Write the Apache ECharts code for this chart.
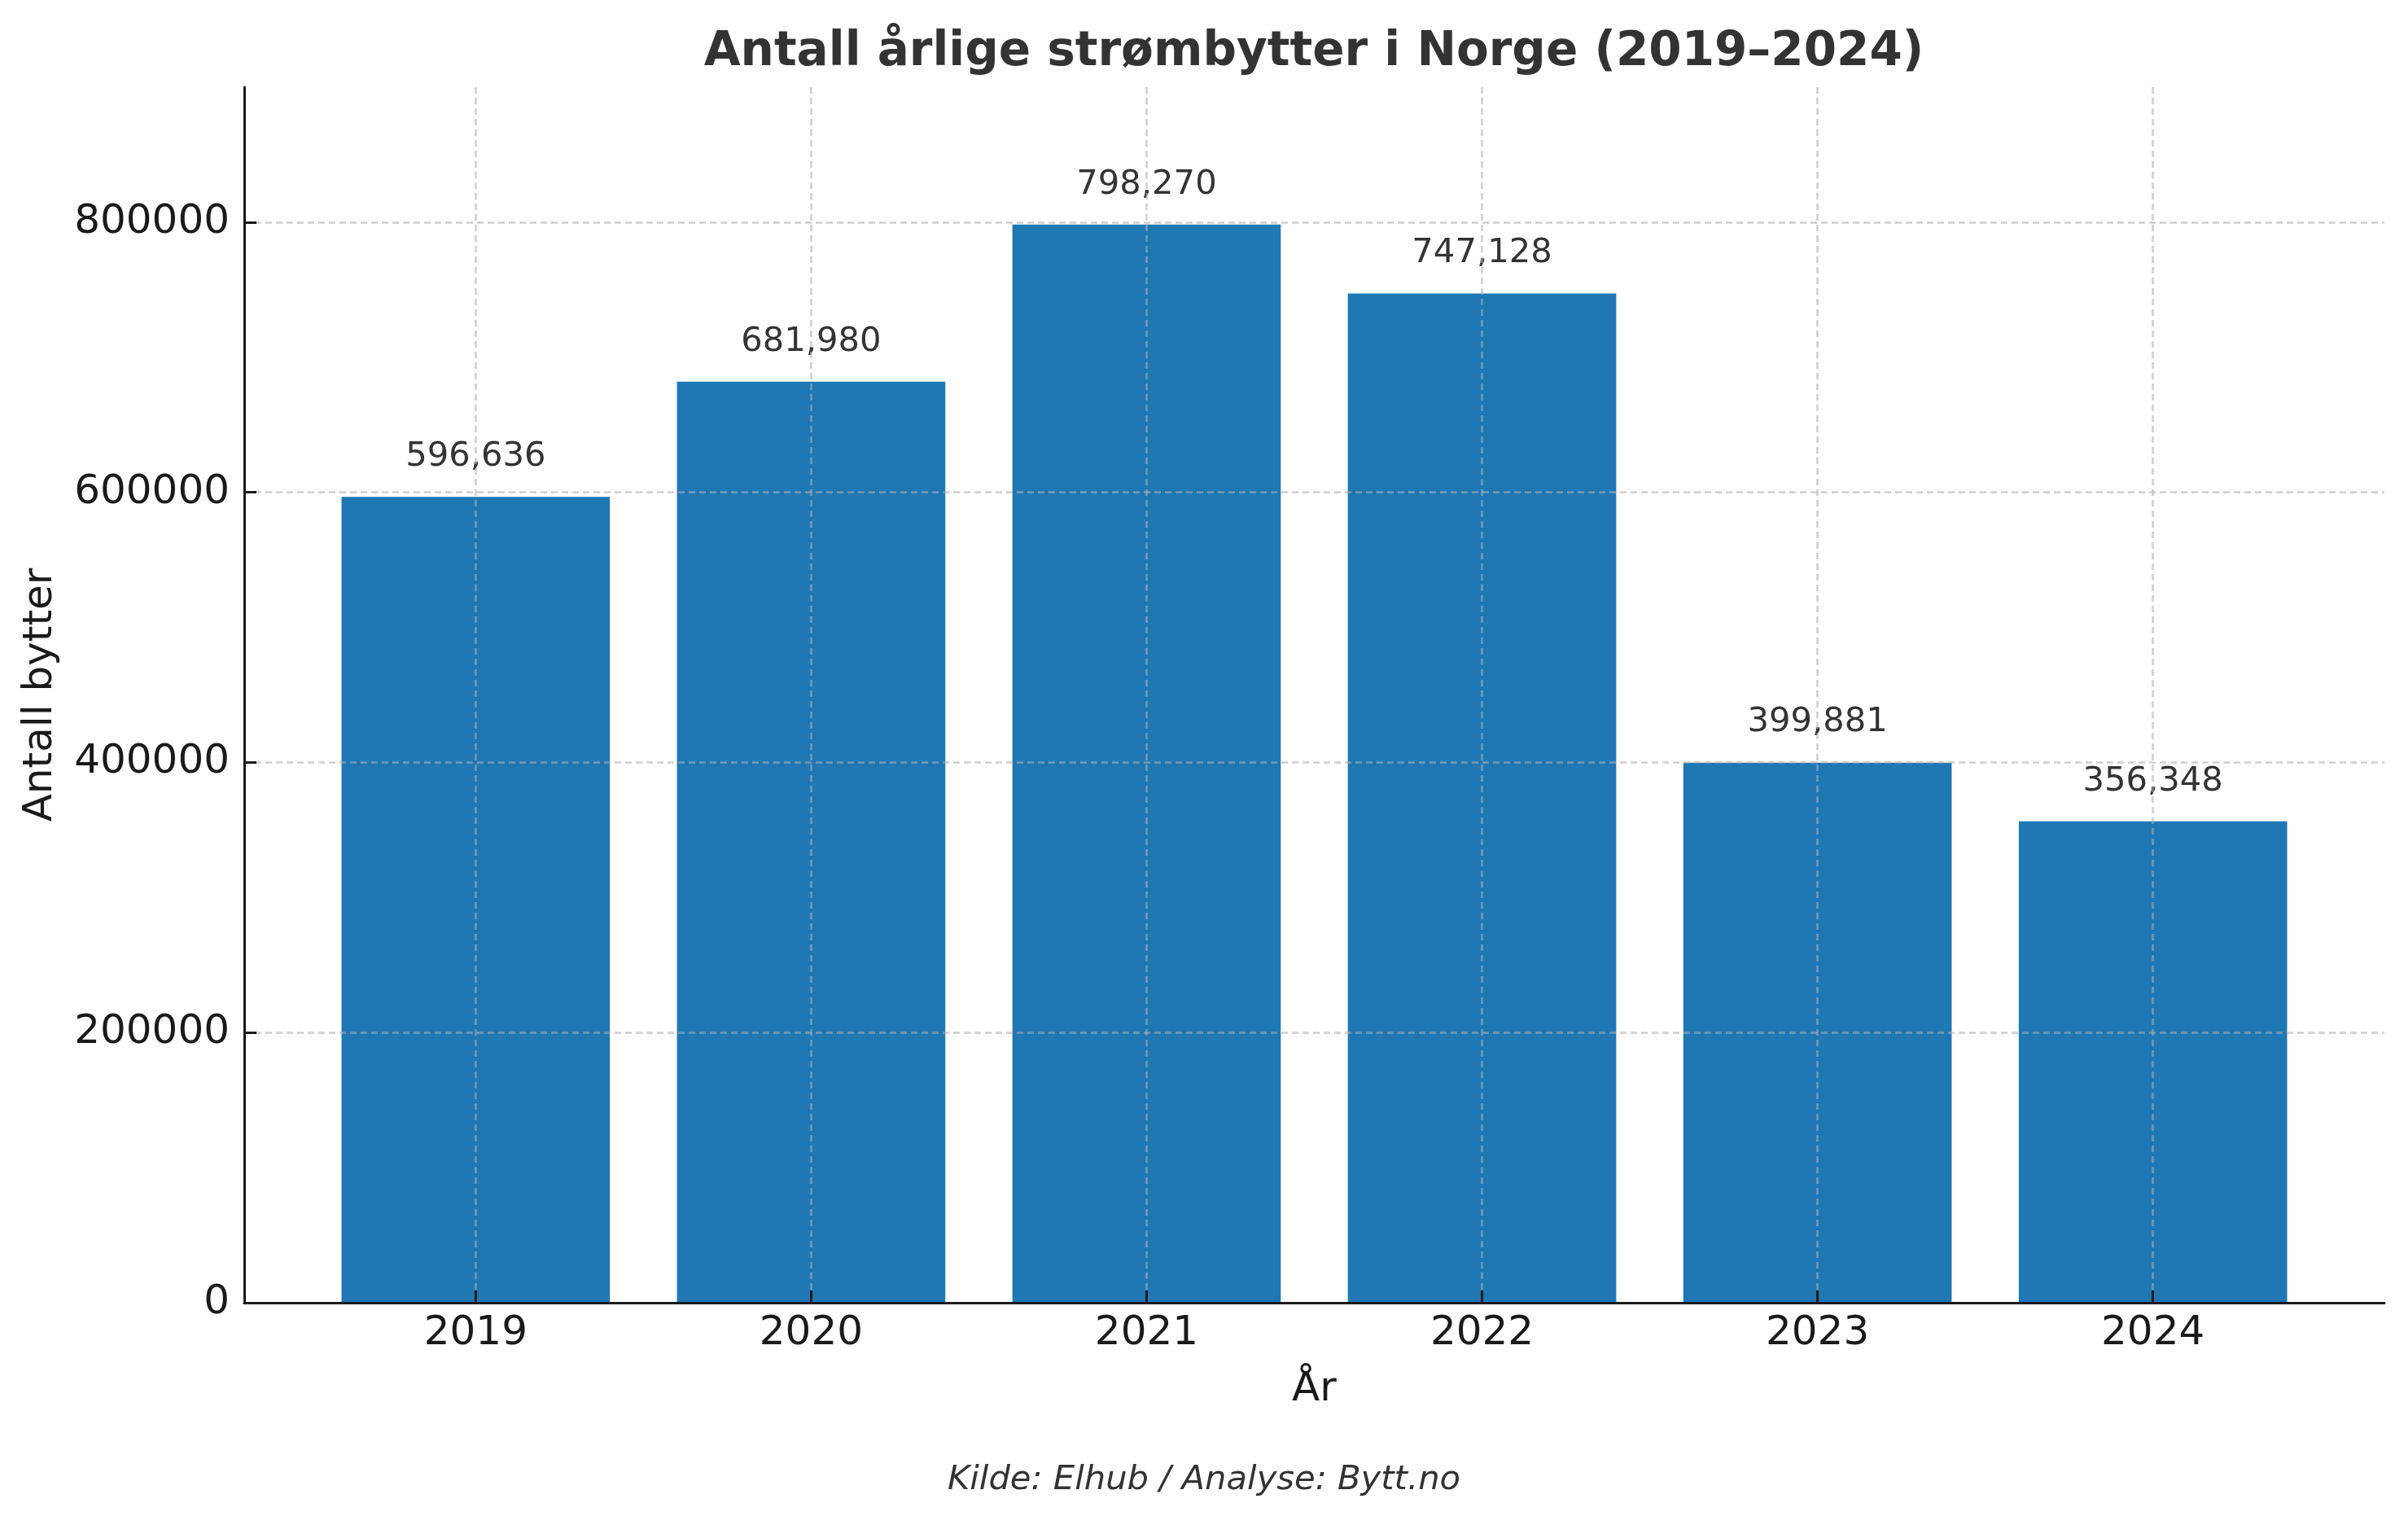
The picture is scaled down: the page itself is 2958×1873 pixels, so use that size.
<!DOCTYPE html>
<html>
<head>
<meta charset="utf-8">
<script src="https://cdn.jsdelivr.net/npm/echarts@6/dist/echarts.min.js"></script>
<style>
html,body{margin:0;padding:0;background:#fff;}
#chart{width:2958px;height:1873px;}
</style>
</head>
<body>
<div id="chart"></div>
<script>
const years = ['2019', '2020', '2021', '2022', '2023', '2024'];
const switches = [596636, 681980, 798270, 747128, 399881, 356348];
const yTicks = [0, 200000, 400000, 600000, 800000];
const titleText = 'Antall årlige strømbytter i Norge (2019–2024)';
const xName = 'År';
const yName = 'Antall bytter';
const sourceText = 'Kilde: Elhub / Analyse: Bytt.no';

const FONT = '"DejaVu Sans", "Liberation Sans", sans-serif';
const chart = echarts.init(document.getElementById('chart'), null, {renderer: 'canvas'});
const xIdx = years.map((y, i) => i);

const gridLine = {
  show: true,
  lineStyle: {color: 'rgba(176,176,176,0.62)', width: 2.5, type: [8, 5]}
};

chart.setOption({
  backgroundColor: '#ffffff',
  animation: false,
  textStyle: {fontFamily: FONT},
  grid: {left: 300, right: 29, top: 107, bottom: 273, containLabel: false},
  xAxis: {
    type: 'value',
    min: -0.69,
    max: 5.69,
    z: 10,
    name: xName,
    nameLocation: 'middle',
    nameGap: 82,
    nameTextStyle: {fontFamily: FONT, fontSize: 50, color: '#1a1a1a'},
    axisLine: {show: true, onZero: false, lineStyle: {color: '#1a1a1a', width: 3}},
    axisTick: {show: true, inside: true, length: 15, lineStyle: {color: '#1a1a1a', width: 3}, customValues: xIdx},
    axisLabel: {
      show: true, margin: 13, fontFamily: FONT, fontSize: 50, color: '#1a1a1a',
      customValues: xIdx,
      formatter: v => years[Math.round(v)]
    },
    splitLine: gridLine
  },
  yAxis: {
    type: 'value',
    min: 0,
    max: 900000,
    z: 10,
    name: yName,
    nameLocation: 'middle',
    nameGap: 225,
    nameTextStyle: {fontFamily: FONT, fontSize: 50, color: '#1a1a1a'},
    axisLine: {show: true, onZero: false, lineStyle: {color: '#1a1a1a', width: 3}},
    axisTick: {show: true, inside: true, length: 15, lineStyle: {color: '#1a1a1a', width: 3}, customValues: yTicks},
    axisLabel: {
      show: true, margin: 18, fontFamily: FONT, fontSize: 50, color: '#1a1a1a',
      customValues: yTicks,
      formatter: v => String(v)
    },
    splitLine: gridLine
  },
  series: [{
    type: 'bar',
    data: switches.map((v, i) => [i, v]),
    barWidth: '80%',
    z: 2,
    itemStyle: {color: '#1f77b4'},
    label: {
      show: true,
      position: 'top',
      distance: 28,
      fontFamily: FONT,
      fontSize: 41.7,
      color: '#333333',
      formatter: p => p.value[1].toLocaleString('en-US')
    }
  }],
  graphic: [
    {
      type: 'text', x: 1614, y: 65, z: 100,
      style: {text: titleText, fill: '#333333', font: 'bold 58px ' + FONT, textAlign: 'center', textVerticalAlign: 'middle'}
    },
    {
      type: 'text', x: 1479, y: 1818, z: 100,
      style: {text: sourceText, fill: '#333333', font: 'italic 41.7px ' + FONT, textAlign: 'center', textVerticalAlign: 'middle'}
    }
  ]
});
</script>
</body>
</html>
